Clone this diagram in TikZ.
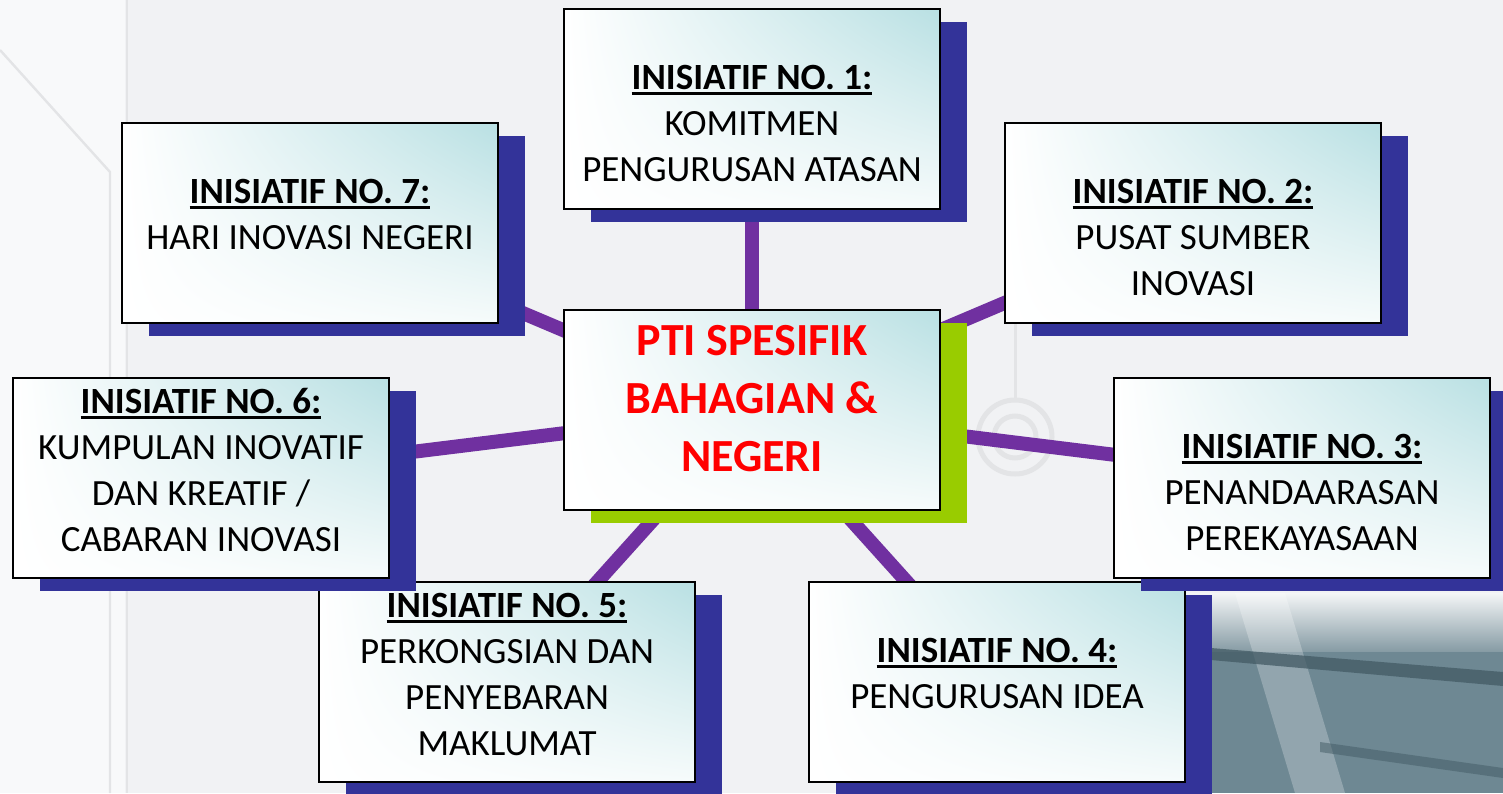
\documentclass[tikz,border=0pt]{standalone}
\usepackage{fontspec}
\setmainfont{Carlito}
\usetikzlibrary{shadows,calc,shadings}
\definecolor{shnavy}{HTML}{333399}
\definecolor{shlime}{HTML}{99CC00}
\definecolor{linkpurple}{HTML}{7030A0}
\definecolor{teal1}{RGB}{185,224,227}
\definecolor{teal2}{RGB}{246,251,251}
\definecolor{bggray}{HTML}{F1F2F4}
\definecolor{decogray}{HTML}{E3E4E6}
\definecolor{phtop}{RGB}{244,246,247}
\definecolor{phmid}{RGB}{135,156,165}
\definecolor{phbot}{RGB}{110,136,147}
\definecolor{phband}{RGB}{66,90,100}
\newcommand\tstrut{\rule{0pt}{16pt}}
\newcommand\cstrut{\rule{0pt}{20pt}}
\newcommand\hdr[1]{\setbox0\hbox{\bfseries #1}\rlap{\copy0}\rule[-3pt]{\wd0}{1.5pt}}
\newcommand\mdfont{\fontsize{18.5pt}{23pt}\selectfont}
\newcommand\bgfont{\fontsize{23pt}{29pt}\selectfont\bfseries}
\pgfdeclarelayer{bglayer}
\pgfdeclarelayer{linklayer}
\pgfsetlayers{bglayer,linklayer,main}
\tikzset{
  ibox/.style={draw=black, line width=1pt, shade,
    upper left=white, upper right=teal1, lower left=white, lower right=teal2,
    minimum width=188pt, minimum height=100pt, inner sep=0pt, anchor=north west,
    drop shadow={fill=shnavy, opacity=1, shadow xshift=13.5pt, shadow yshift=-6.5pt}},
  cbox/.style={draw=black, line width=1pt, shade,
    upper left=white, upper right=teal1, lower left=white, lower right=teal2,
    minimum width=188pt, minimum height=100pt, inner sep=0pt, anchor=north west,
    drop shadow={fill=shlime, opacity=1, shadow xshift=13.5pt, shadow yshift=-6.5pt}},
  itext/.style={anchor=north, inner sep=0pt, align=center, font=\mdfont, text=black},
  ctext/.style={anchor=north, inner sep=0pt, align=center, font=\bgfont, text=red},
  link/.style={draw=linkpurple, line width=7pt}
}
\begin{document}
\begin{tikzpicture}[x=0.5pt,y=-0.5pt]
\useasboundingbox (0,0) rectangle (1503,793);
% boxes
\node[ibox] (b1) at (563,8) {};
\node[ibox] (b7) at (121,122) {};
\node[ibox] (b2) at (1004,122) {};
\node[cbox] (c) at (563,309) {};
\node[ibox] (b5) at (318,581) {};
\node[ibox] (b4) at (808,581) {};
\node[ibox] (b6) at (12,377) {};
\node[ibox] (b3) at (1113,377) {};
% texts
\node[itext] (t1) at ($(b1.north)+(0,49)$) {\tstrut\hdr{INISIATIF NO. 1:}\\KOMITMEN\\PENGURUSAN ATASAN};
\node[itext] (t7) at ($(b7.north)+(0,49)$) {\tstrut\hdr{INISIATIF NO. 7:}\\HARI INOVASI NEGERI};
\node[itext] (t2) at ($(b2.north)+(0,49)$) {\tstrut\hdr{INISIATIF NO. 2:}\\PUSAT SUMBER\\INOVASI};
\node[itext] (t6) at ($(b6.north)+(0,4)$) {\tstrut\hdr{INISIATIF NO. 6:}\\KUMPULAN INOVATIF\\DAN KREATIF /\\CABARAN INOVASI};
\node[itext] (t3) at ($(b3.north)+(0,49)$) {\tstrut\hdr{INISIATIF NO. 3:}\\PENANDAARASAN\\PEREKAYASAAN};
\node[itext] (t5) at ($(b5.north)+(0,4)$) {\tstrut\hdr{INISIATIF NO. 5:}\\PERKONGSIAN DAN\\PENYEBARAN\\MAKLUMAT};
\node[itext] (t4) at ($(b4.north)+(0,49)$) {\tstrut\hdr{INISIATIF NO. 4:}\\PENGURUSAN IDEA};
\node[ctext] (ct) at ($(c.north)+(0,6)$) {\cstrut PTI SPESIFIK\\BAHAGIAN \&\\NEGERI};
% connectors
\begin{pgfonlayer}{linklayer}
\foreach \b in {b1,b2,b3,b4,b5,b6,b7}
  \draw[link] (c.center) -- (\b.center);
\end{pgfonlayer}
% background
\begin{pgfonlayer}{bglayer}
\fill[bggray] (0,0) rectangle (1503,793);
\fill[white, opacity=0.55] (0,0) rectangle (125,793);
\draw[decogray, line width=1.2pt] (127,0) -- (127,793);
\draw[decogray, line width=1.2pt] (0,50) -- (110,172) -- (110,793);
\draw[decogray, line width=1.5pt] (1015,323) -- (1015,400);
\draw[decogray, line width=2.5pt] (1015,437) circle[radius=37];
\draw[decogray, line width=2.5pt] (1015,437) circle[radius=21];
\fill[phbot] (1190,650) rectangle (1503,793);
\shade[top color=phtop, bottom color=phmid] (1190,593) rectangle (1503,651);
\fill[white, opacity=0.25] (1235,593) -- (1285,593) -- (1345,793) -- (1295,793) -- cycle;
\fill[phband, opacity=0.75] (1211,648) -- (1503,672) -- (1503,686) -- (1211,660) -- cycle;
\fill[phband, opacity=0.5] (1320,742) -- (1503,768) -- (1503,778) -- (1320,752) -- cycle;
\end{pgfonlayer}
\end{tikzpicture}
\end{document}
